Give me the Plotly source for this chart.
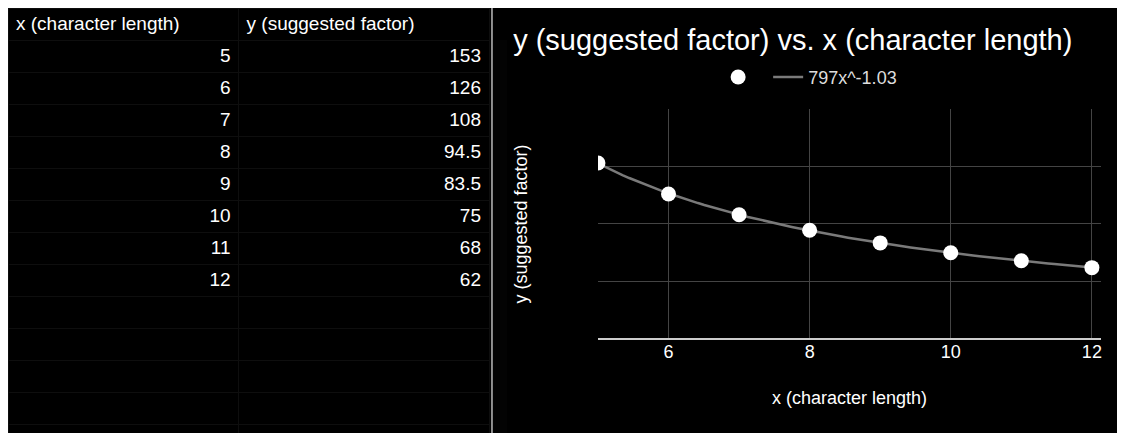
import numpy as np
import plotly.graph_objects as go

x_len = [5, 6, 7, 8, 9, 10, 11, 12]
y_factor = [153, 126, 108, 94.5, 83.5, 75, 68, 62]
col_names = ["x (character length)", "y (suggested factor)"]
x_ticks = [6, 8, 10, 12]

# power trendline fitted like the sheet does (log-log least squares)
b, log_a = np.polyfit(np.log(x_len), np.log(y_factor), 1)
a = np.exp(log_a)
xs = np.linspace(5, 12, 80)
trend_name = f"{a:.0f}x^{b:.2f}"

blank = 5
col1 = [str(v) for v in x_len] + [""] * blank
col2 = [f"{v:g}" for v in y_factor] + [""] * blank

fig = go.Figure()

fig.add_trace(go.Table(
    domain=dict(x=[0, 0.428], y=[0, 1]),
    columnwidth=[232, 252],
    header=dict(values=col_names, align="left", height=32,
                fill_color="black", line_color="#0e0e0e",
                font=dict(family="Arial", size=19, color="white")),
    cells=dict(values=[col1, col2], align="right", height=32,
               fill_color="black", line_color="#0e0e0e",
               font=dict(family="Arial", size=19, color="white")),
))

fig.add_trace(go.Scatter(
    x=xs, y=a * xs ** b, mode="lines", name=trend_name,
    line=dict(color="#7a7a7a", width=2.5), hoverinfo="skip",
))
fig.add_trace(go.Scatter(
    x=x_len, y=y_factor, mode="markers", name=" ",
    marker=dict(color="white", size=15),
))

fig.update_layout(
    width=1125, height=433,
    margin=dict(l=0, r=0, t=0, b=0),
    paper_bgcolor="black", plot_bgcolor="black",
    font=dict(family="Arial", color="white"),
    title=dict(text="y (suggested factor) vs. x (character length)",
               x=0.449, xanchor="left", y=0.926, yanchor="middle",
               font=dict(size=29, color="white")),
    legend=dict(orientation="h", x=0.713, xanchor="center", y=0.84, yanchor="middle",
                font=dict(size=18, color="#dddddd"), traceorder="reversed",
                bgcolor="rgba(0,0,0,0)"),
    xaxis=dict(domain=[0.5244, 0.9716], range=[5, 12.13], tickvals=x_ticks,
               showgrid=True, gridcolor="#444444", zeroline=False,
               tickfont=dict(size=18, color="white"),
               title=dict(text="x (character length)", font=dict(size=18, color="white"),
                          standoff=30)),
    yaxis=dict(domain=[0.2356, 0.767], range=[0, 200], tickvals=[0, 50, 100, 150, 200],
               showticklabels=False, showgrid=True, gridcolor="#444444",
               zeroline=True, zerolinecolor="#cccccc", zerolinewidth=2,
               title=dict(text="y (suggested factor)", font=dict(size=18, color="white"),
                          standoff=64)),
    shapes=[dict(type="line", xref="paper", yref="paper", x0=0.4302, x1=0.4302,
                 y0=0, y1=1, line=dict(color="#bbbbbb", width=1.5))],
)

fig.write_html("out.html")
